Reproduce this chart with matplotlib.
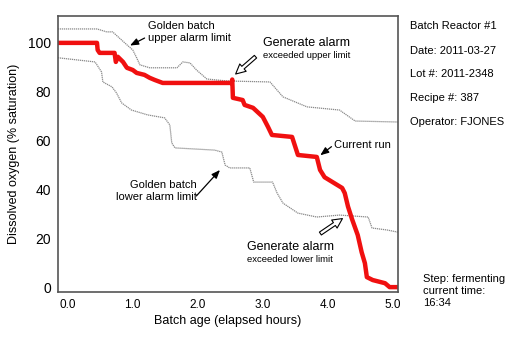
import matplotlib
matplotlib.use("Agg")
import matplotlib.pyplot as plt

plt.rcParams['font.family'] = ['Liberation Sans', 'DejaVu Sans']

# Current run (red)
run_x = [-0.15, 0.45, 0.46, 0.49, 0.72, 0.74, 0.77, 0.85, 0.91, 1.0, 1.06, 1.18, 1.26, 1.34, 1.46,
         2.52, 2.53, 2.54, 2.69, 2.72, 2.85, 3.0, 3.08, 3.14, 3.45, 3.54, 3.83, 3.88, 3.95,
         4.22, 4.26, 4.31, 4.37, 4.46, 4.52, 4.57, 4.6, 4.69, 4.88, 4.95, 5.08]
run_y = [100, 100, 97.1, 95.9, 95.9, 92.2, 94.3, 92.2, 89.8, 88.9, 87.7, 86.9, 85.7, 84.8, 83.6,
         83.6, 85.0, 77.5, 76.6, 74.6, 73.4, 69.7, 65.6, 62.3, 61.5, 54.1, 53.3, 48.0, 45.0,
         40.6, 38.5, 33.0, 28.0, 21.3, 14.3, 9.8, 4.1, 2.9, 1.6, 0, 0]

# Golden batch upper alarm limit
upper_x = [-0.15, 0.45, 0.6, 0.69, 0.91, 1.0, 1.06, 1.11, 1.26, 1.68, 1.77, 1.88, 1.98, 2.14, 2.45,
           3.11, 3.31, 3.68, 4.18, 4.42, 5.08]
upper_y = [105.7, 105.7, 104.5, 104.5, 99.2, 97.1, 93.9, 91.0, 89.8, 89.8, 92.2, 91.8, 88.9, 85.2, 84.4,
           84.0, 77.9, 73.8, 72.5, 68.0, 67.6]

# Golden batch lower alarm limit
lower_x = [-0.15, 0.42, 0.52, 0.54, 0.68, 0.75, 0.83, 0.98, 1.23, 1.49, 1.57, 1.6, 1.65, 2.26, 2.37,
           2.42, 2.49, 2.8, 2.86, 3.15, 3.22, 3.31, 3.54, 3.83, 4.18, 4.62, 4.68, 4.91, 5.08]
lower_y = [93.9, 92.2, 88.1, 84.0, 82.0, 79.5, 75.4, 72.5, 70.5, 69.3, 66.4, 59.0, 57.0, 56.1, 55.3,
           50.0, 48.8, 48.8, 43.0, 43.0, 38.5, 34.4, 30.3, 28.7, 29.5, 28.7, 24.2, 23.4, 22.5]

x_ticks = [0, 1, 2, 3, 4, 5]
x_tick_labels = ["0.0", "1.0", "2.0", "3.0", "4.0", "5.0"]
y_ticks = [0, 20, 40, 60, 80, 100]

info_lines = ["Batch Reactor #1", "Date: 2011-03-27", "Lot #: 2011-2348", "Recipe #: 387", "Operator: FJONES"]
step_text = "Step: fermenting\ncurrent time:\n16:34"

fig = plt.figure(figsize=(5.2, 3.37), dpi=100)
ax = fig.add_axes([0.1115, 0.1335, 0.654, 0.819])

ax.plot(upper_x, upper_y, color='#8a8a8a', lw=0.9, ls=(0, (1, 0.6)))
ax.plot(lower_x, lower_y, color='#8a8a8a', lw=0.9, ls=(0, (1, 0.6)))
ax.plot(run_x, run_y, color='#f01010', lw=3.2, solid_joinstyle='round', solid_capstyle='butt')

ax.set_xlim(-0.15, 5.08)
ax.set_ylim(-2, 111)
ax.set_xticks(x_ticks)
ax.set_xticklabels(x_tick_labels, fontsize=8.5)
ax.set_yticks(y_ticks)
ax.set_yticklabels([str(v) for v in y_ticks], fontsize=10)
ax.tick_params(length=0, pad=5)
for s in ax.spines.values():
    s.set_color('#555555')
    s.set_linewidth(1.2)

ax.set_xlabel("Batch age (elapsed hours)", fontsize=9, labelpad=3)
ax.set_ylabel("Dissolved oxygen (% saturation)", fontsize=9, labelpad=6)

# annotations
ax.text(1.23, 104.5, "Golden batch\nupper alarm limit", fontsize=8, ha='left', va='center', linespacing=1.2)
ax.annotate('', xy=(0.92, 98.4), xytext=(1.22, 102.5),
            arrowprops=dict(arrowstyle='-|>,head_length=0.5,head_width=0.2', color='black', lw=0.9))

ax.text(1.98, 39.3, "Golden batch\nlower alarm limit", fontsize=8, ha='right', va='center',
        multialignment='right', linespacing=1.2)
ax.annotate('', xy=(2.37, 48.8), xytext=(1.95, 36.5),
            arrowprops=dict(arrowstyle='-|>,head_length=0.5,head_width=0.2', color='black', lw=0.9))

ax.text(4.09, 58.2, "Current run", fontsize=8, ha='left', va='center')
ax.annotate('', xy=(3.85, 53.3), xytext=(4.09, 58.2),
            arrowprops=dict(arrowstyle='-|>,head_length=0.5,head_width=0.2', color='black', lw=0.9))

ax.text(3.0, 100, "Generate alarm", fontsize=9, ha='left', va='center')
ax.text(3.0, 95.0, "exceeded upper limit", fontsize=6.8, ha='left', va='center')
ax.annotate('', xy=(2.55, 86.5), xytext=(2.92, 95.1),
            arrowprops=dict(arrowstyle='simple,head_length=0.7,head_width=0.7,tail_width=0.25',
                            fc='white', ec='black', lw=0.8))

ax.text(2.75, 16.4, "Generate alarm", fontsize=9, ha='left', va='center')
ax.text(2.75, 11.5, "exceeded lower limit", fontsize=6.8, ha='left', va='center')
ax.annotate('', xy=(4.26, 28.7), xytext=(3.85, 21.3),
            arrowprops=dict(arrowstyle='simple,head_length=0.7,head_width=0.7,tail_width=0.25',
                            fc='white', ec='black', lw=0.8))

ys = [26, 51, 74, 98, 122]
for t, ypx in zip(info_lines, ys):
    fig.text(410 / 520, 1 - ypx / 337, t, fontsize=8, ha='left', va='center')
fig.text(423 / 520, 1 - 291 / 337, step_text, fontsize=8, ha='left', va='center', linespacing=1.25)

fig.savefig("out.png", dpi=100)
